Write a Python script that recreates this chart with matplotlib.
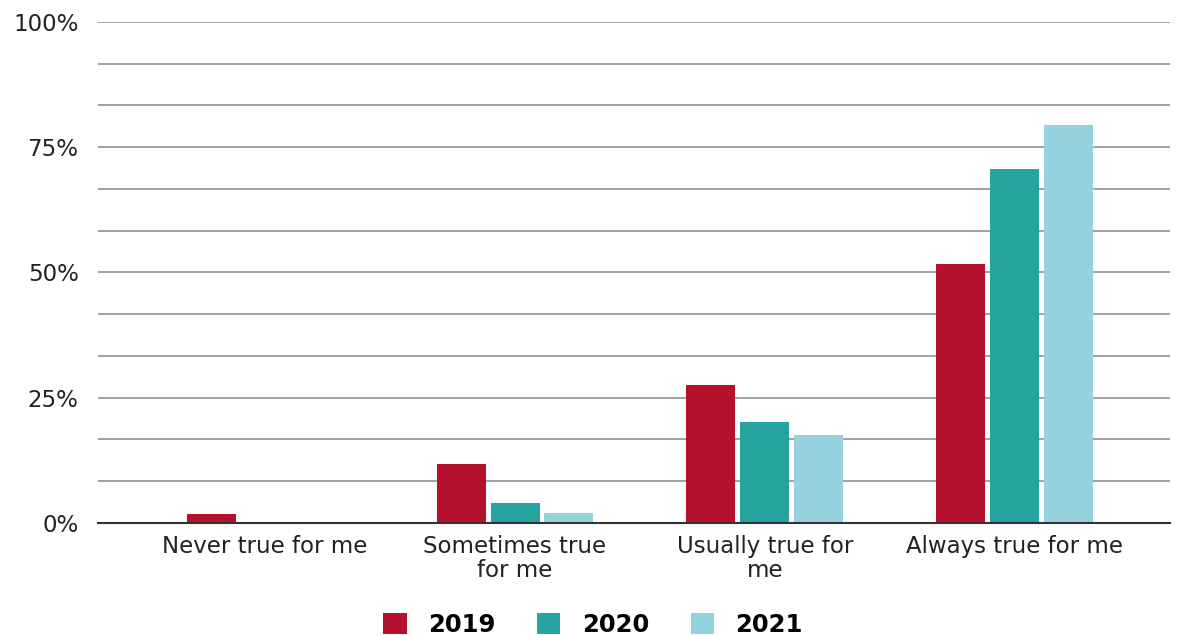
import numpy as np
import matplotlib.pyplot as plt
from matplotlib.ticker import MultipleLocator, FuncFormatter

categories = ["Never true for me", "Sometimes true\nfor me", "Usually true for\nme", "Always true for me"]
years = ["2019", "2020", "2021"]
v2019 = [1.8, 11.8, 27.5, 51.7]
v2020 = [0, 4.0, 20.2, 70.7]
v2021 = [0, 1.9, 17.6, 79.4]
colors = ["#B5112C", "#27A39F", "#96D2DD"]

fig = plt.figure(figsize=(11.77, 6.35), dpi=100)
ax = fig.add_axes([0.0833, 0.1764, 0.9107, 0.789])

x = np.arange(len(categories))
off = 0.216
w = 0.196
for i, (vals, yr) in enumerate(zip([v2019, v2020, v2021], years)):
    ax.bar(x + (i - 1) * off, vals, width=w, color=colors[i], label=yr, zorder=3)

ax.set_xlim(-0.668, 3.62)
ax.set_ylim(0, 100)
ax.yaxis.set_major_locator(MultipleLocator(25))
ax.yaxis.set_minor_locator(MultipleLocator(25 / 3))
ax.yaxis.set_major_formatter(FuncFormatter(lambda v, p: f"{v:.0f}%"))
ax.grid(axis="y", which="both", color="#9a9a9a", linewidth=1.3, zorder=0)
ax.tick_params(axis="y", which="both", length=0, labelsize=16.5, colors="#222222", pad=14)
ax.tick_params(axis="x", length=0, labelsize=16.5, colors="#222222", pad=9)
ax.set_xticks(x)
ax.set_xticklabels(categories, linespacing=1.05)
for s in ["top", "right", "left"]:
    ax.spines[s].set_visible(False)
ax.spines["bottom"].set_color("#333333")
ax.spines["bottom"].set_linewidth(1.5)
ax.spines["bottom"].set_zorder(4)

leg = fig.legend(loc="lower center", bbox_to_anchor=(0.504, -0.038), ncol=3, frameon=False,
                 prop={"size": 17.5, "weight": "bold"}, handlelength=0.95, handleheight=0.95,
                 columnspacing=1.7, handletextpad=0.9)

fig.savefig("out.png", dpi=100)
